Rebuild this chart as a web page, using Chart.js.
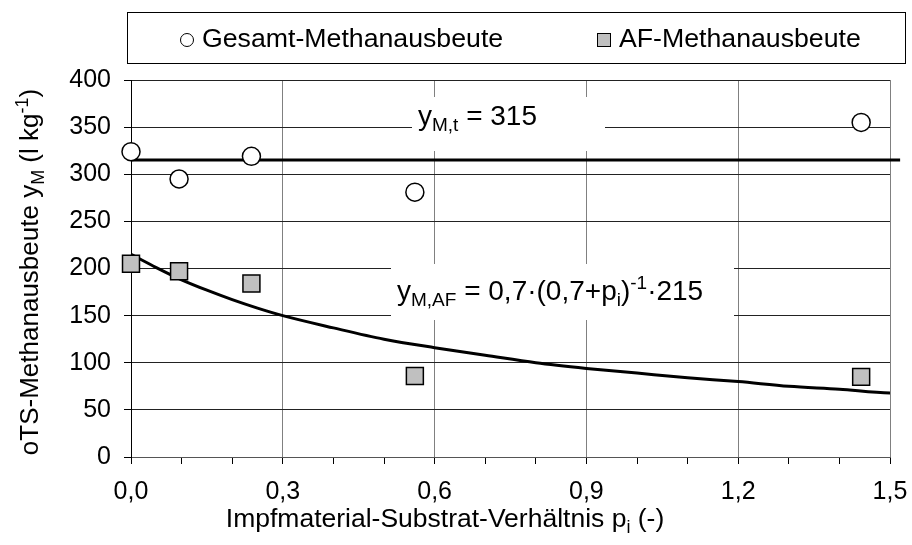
<!DOCTYPE html>
<html>
<head>
<meta charset="utf-8">
<script src="https://cdn.jsdelivr.net/npm/chart.js@4/dist/chart.umd.min.js"></script>
<style>
  html, body { margin: 0; padding: 0; background: #fff; }
  #wrap { width: 912px; height: 545px; }
</style>
</head>
<body>
<div id="wrap"><canvas id="c" width="912" height="545"></canvas></div>
<script>
// ---- data ----
const pRatio = [0, 0.095, 0.238, 0.561, 1.443];
const gesamtYield = [324, 295, 319, 281, 355];
const afYield = [205, 197, 184, 86, 85];
const theoLineX = [0, 1.52];
const theoLineY = [315, 315];
const fitX = [0, 0.05, 0.1, 0.15, 0.2, 0.25, 0.3, 0.4, 0.5, 0.6, 0.7, 0.8, 0.9, 1.0, 1.1, 1.2, 1.3, 1.4, 1.5, 1.52];
const fitY = [215, 201, 188, 177, 167, 158, 150, 137, 125, 116, 108, 100, 94, 89, 84, 80, 75, 72, 68, 68];
const seriesNames = ['Gesamt-Methanausbeute', 'AF-Methanausbeute'];
const yTicks = { min: 0, max: 400, step: 50 };
const xTicks = { min: 0, max: 1.5, step: 0.1, labelEvery: 3 };

const FONT = '"Liberation Sans", Arial, sans-serif';

function pts(xs, ys) { return xs.map((x, i) => ({ x: x, y: ys[i] })); }

// rich text segments: [{t, s:'n'|'sub'|'sup'}]
function segSize(sg, size) { return sg.s === 'n' ? size : Math.round(size * 0.68); }
function richWidth(ctx, segs, size) {
  let w = 0;
  segs.forEach(sg => {
    ctx.font = segSize(sg, size) + 'px ' + FONT;
    w += ctx.measureText(sg.t).width;
  });
  return w;
}
function drawRich(ctx, segs, x, y, size) {
  let cx = x;
  ctx.textBaseline = 'alphabetic';
  ctx.textAlign = 'left';
  segs.forEach(sg => {
    ctx.font = segSize(sg, size) + 'px ' + FONT;
    let dy = 0;
    if (sg.s === 'sub') dy = size * 0.22;
    if (sg.s === 'sup') dy = -size * 0.40;
    ctx.fillText(sg.t, cx, y + dy);
    cx += ctx.measureText(sg.t).width;
  });
}

const decor = {
  id: 'decor',
  beforeDatasetsDraw(chart) {
    const ctx = chart.ctx;
    ctx.save();
    // annotation 1 (white label box interrupting the grid)
    ctx.fillStyle = '#fff';
    ctx.fillRect(412, 97, 193, 54);
    ctx.fillStyle = '#000';
    drawRich(ctx, [{t:'y', s:'n'}, {t:'M,t', s:'sub'}, {t:' = 315', s:'n'}], 418, 125, 28);
    // annotation 2
    ctx.fillStyle = '#fff';
    ctx.fillRect(391, 264, 343, 56);
    ctx.fillStyle = '#000';
    drawRich(ctx, [{t:'y', s:'n'}, {t:'M,AF', s:'sub'}, {t:' = 0,7·(0,7+p', s:'n'}, {t:'i', s:'sub'}, {t:')', s:'n'}, {t:'-1', s:'sup'}, {t:'·215', s:'n'}], 397, 300, 28);
    ctx.restore();
  },
  afterDraw(chart) {
    const ctx = chart.ctx;
    ctx.save();
    // legend box
    ctx.strokeStyle = '#000';
    ctx.lineWidth = 1;
    ctx.strokeRect(127.5, 12.5, 778, 51);
    ctx.beginPath();
    ctx.arc(187, 40, 6.5, 0, Math.PI * 2);
    ctx.fillStyle = '#fff';
    ctx.fill();
    ctx.stroke();
    ctx.fillStyle = '#c0c0c0';
    ctx.fillRect(597.5, 33.5, 13, 13);
    ctx.strokeRect(597.5, 33.5, 13, 13);
    ctx.fillStyle = '#000';
    ctx.font = '26.7px ' + FONT;
    ctx.textBaseline = 'middle';
    ctx.textAlign = 'left';
    ctx.fillText(seriesNames[0], 202, 40);
    ctx.fillText(seriesNames[1], 619, 40);

    // x axis title
    const xsegs = [{t:'Impfmaterial-Substrat-Verhältnis p', s:'n'}, {t:'i', s:'sub'}, {t:' (-)', s:'n'}];
    const xw = richWidth(ctx, xsegs, 26.5);
    drawRich(ctx, xsegs, 445 - xw / 2, 527, 26.5);

    // y axis title
    const ysegs = [{t:'oTS-Methanausbeute y', s:'n'}, {t:'M', s:'sub'}, {t:' (l kg', s:'n'}, {t:'-1', s:'sup'}, {t:')', s:'n'}];
    const yw = richWidth(ctx, ysegs, 26);
    ctx.translate(38, 272);
    ctx.rotate(-Math.PI / 2);
    drawRich(ctx, ysegs, -yw / 2, 0, 26);
    ctx.restore();
  }
};

const isMajor = v => Math.round(v * 10) % xTicks.labelEvery === 0;

new Chart(document.getElementById('c'), {
  type: 'scatter',
  data: {
    datasets: [
      { label: 'theo', data: pts(theoLineX, theoLineY), showLine: true,
        borderColor: '#000', borderWidth: 3, pointRadius: 0, clip: false, order: 3 },
      { label: 'fit', data: pts(fitX, fitY), showLine: true, cubicInterpolationMode: 'monotone',
        borderColor: '#000', borderWidth: 3, pointRadius: 0, clip: false, order: 3 },
      { label: seriesNames[0], data: pts(pRatio, gesamtYield), clip: false,
        pointStyle: 'circle', pointRadius: 9, backgroundColor: '#fff', borderColor: '#000', borderWidth: 1.5, order: 1 },
      { label: seriesNames[1], data: pts(pRatio, afYield), clip: false,
        pointStyle: 'rect', pointRadius: 12, backgroundColor: '#c0c0c0', borderColor: '#000', borderWidth: 1.5, order: 1 }
    ]
  },
  options: {
    responsive: false,
    animation: false,
    events: [],
    layout: { padding: { left: 0, right: 22, top: 80, bottom: 0 } },
    plugins: { legend: { display: false }, tooltip: { enabled: false } },
    scales: {
      x: {
        type: 'linear', min: xTicks.min, max: xTicks.max,
        afterFit(s) { s.height = 88; s.paddingLeft = 0; s.paddingRight = 0; },
        ticks: {
          stepSize: xTicks.step, autoSkip: false, maxRotation: 0, padding: 13,
          color: '#000', font: { family: FONT, size: 25 },
          callback: v => isMajor(v) ? v.toFixed(1).replace('.', ',') : ''
        },
        grid: {
          color: c => (c.tick && isMajor(c.tick.value)) ? '#808080' : 'rgba(0,0,0,0)',
          tickColor: '#000', tickLength: 7, lineWidth: 1
        },
        border: { color: '#555', width: 1 }
      },
      y: {
        min: yTicks.min, max: yTicks.max,
        afterFit(s) { s.width = 131; s.paddingTop = 0; s.paddingBottom = 0; },
        ticks: { stepSize: yTicks.step, padding: 13, color: '#000', font: { family: FONT, size: 25 } },
        grid: { color: '#222', tickColor: '#000', tickLength: 7, lineWidth: 1 },
        border: { color: '#000', width: 1 }
      }
    }
  },
  plugins: [decor]
});
</script>
</body>
</html>
